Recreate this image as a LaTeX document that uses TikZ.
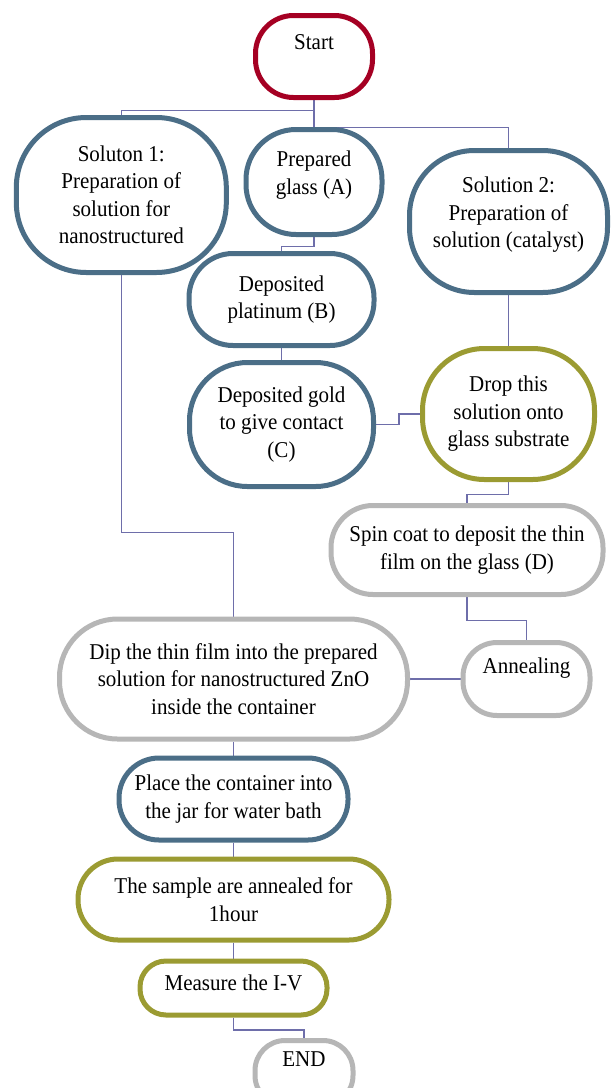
\documentclass[tikz,border=0pt]{standalone}
\usepackage{fontspec}
\setmainfont{Liberation Serif}[FakeStretch=0.93]
\usetikzlibrary{backgrounds}

\definecolor{startred}{RGB}{165,0,35}
\definecolor{steelline}{RGB}{75,110,135}
\definecolor{oliveline}{RGB}{155,155,50}
\definecolor{greyline}{RGB}{182,182,182}
\definecolor{linkline}{RGB}{110,110,170}

\begin{document}
\begin{tikzpicture}[x=1pt,y=1pt,font=\fontsize{22.6}{27.5}\selectfont,
    box/.style={rectangle,draw,line width=5pt,fill=white,inner sep=0pt,align=center},
    redbox/.style={box,draw=startred},
    bluebox/.style={box,draw=steelline},
    olivebox/.style={box,draw=oliveline},
    greybox/.style={box,draw=greyline},
    link/.style={draw=linkline,line width=1.6pt}]

    \useasboundingbox (0,0) rectangle (611,-1088);

    \node[redbox, minimum width=117pt, minimum height=82pt, rounded corners=38pt, text depth=28pt] (start) at (314,-56.5) {Start};
    \node[bluebox, below of=start, node distance=125.5pt, minimum width=136pt, minimum height=105pt, rounded corners=50pt, text depth=18.6pt] (prepared) {Prepared\\glass (A)};
    \node[bluebox, below of=start, node distance=138.5pt, xshift=-192.7pt, minimum width=210pt, minimum height=155pt, rounded corners=70pt] (sol1) {Soluton 1:\\Preparation of\\solution for\\nanostructured};
    \node[bluebox, below of=start, node distance=165pt, xshift=194.5pt, minimum width=198pt, minimum height=142pt, rounded corners=65pt, text depth=18.6pt] (sol2) {Solution 2:\\Preparation of\\solution (catalyst)};
    \node[bluebox, below of=prepared, node distance=117.5pt, xshift=-32.5pt, minimum width=185pt, minimum height=92pt, rounded corners=44pt] (platinum) {Deposited\\platinum (B)};
    \node[bluebox, below of=platinum, node distance=125pt, minimum width=184pt, minimum height=124pt, rounded corners=58pt] (gold) {Deposited gold\\to give contact\\(C)};
    \node[olivebox, below of=sol2, node distance=192.5pt, minimum width=172pt, minimum height=131pt, rounded corners=62pt] (drop) {Drop this\\solution onto\\glass substrate};
    \node[greybox, below of=drop, node distance=136pt, xshift=-41.5pt, minimum width=272pt, minimum height=89pt, rounded corners=42pt] (spin) {Spin coat to deposit the thin\\film on the glass (D)};
    \node[greybox, below of=spin, node distance=129pt, xshift=59.5pt, minimum width=127pt, minimum height=73pt, rounded corners=34pt, text depth=26.5pt] (anneal) {Annealing};
    \node[greybox, left of=anneal, node distance=293pt, minimum width=348pt, minimum height=120pt, rounded corners=58pt] (dip) {Dip the thin film into the prepared\\solution for nanostructured ZnO\\inside the container};
    \node[bluebox, below of=dip, node distance=120pt, minimum width=229pt, minimum height=82pt, rounded corners=40pt] (place) {Place the container into\\the jar for water bath};
    \node[olivebox, below of=place, node distance=100.5pt, minimum width=311pt, minimum height=81pt, rounded corners=40pt] (sample) {The sample are annealed for\\1hour};
    \node[olivebox, below of=sample, node distance=88.5pt, minimum width=187pt, minimum height=54pt, rounded corners=26pt, text depth=11pt] (measure) {Measure the I-V};
    \node[greybox, below of=measure, node distance=85pt, xshift=70.5pt, minimum width=98pt, minimum height=65pt, rounded corners=30pt, text depth=27pt] (end) {END};

    \begin{scope}[on background layer]
    \path[link]
    (start.south) -- (prepared.north)
    (start.south) -- ++(0,-10.5) -| (sol1.north)
    (start.south) -- ++(0,-27.5) -| (sol2.north)
    (prepared.south) -- ++(0,-9.5) -| (platinum.north)
    (platinum.south) -- (gold.north)
    (sol2.south) -- (drop.north)
    (gold.east) -- ++(23,0) |- (drop.west)
    (drop.south) -- ++(0,-12.5) -| (spin.north)
    (spin.south) -- ++(0,-23.5) -| (anneal.north)
    (sol1.south) -- ++(0,-257.5) -| (dip.north)
    (anneal.west) -- (dip.east)
    (dip.south) -- (place.north)
    (place.south) -- (sample.north)
    (sample.south) -- (measure.north)
    (measure.south) -- ++(0,-12.5) -| (end.north);
    \end{scope}
\end{tikzpicture}
\end{document}
